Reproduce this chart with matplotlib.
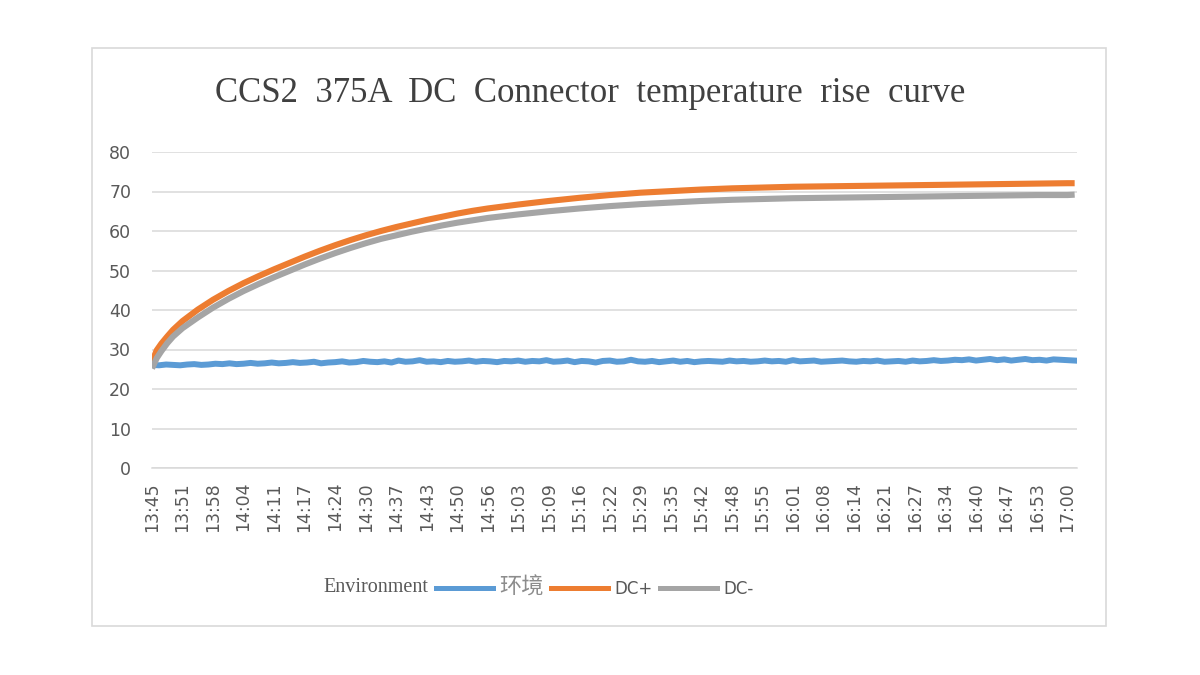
import numpy as np
import matplotlib
matplotlib.use("Agg")
import matplotlib.pyplot as plt
from matplotlib.lines import Line2D
from matplotlib.patches import Rectangle

plt.rcParams['font.family'] = ['DejaVu Sans', 'Noto Sans CJK SC']

# ---------------- data ----------------
title = "CCS2  375A  DC  Connector  temperature  rise  curve"
series_names = ["环境", "DC+", "DC-"]

# minutes after 13:45
dc_minutes = [0, 1, 2, 3.25, 4.5, 6.5, 9.75, 13, 16.25, 19.5,
              22.75, 26, 29.25, 32.5, 35.75, 39, 42.25, 45.5, 48.75, 52,
              55.25, 58.5, 61.75, 65, 68.25, 71.5,
              78, 84.5, 91, 97.5, 104, 110.5, 117, 123.5, 130, 136.5,
              143, 149.5, 156, 162.5, 169, 175.5, 182, 188.5, 195, 196.5]
dc_plus = [26.8, 29.8, 31.5, 33.3, 35.0, 37.2, 40.1, 42.6, 44.8, 46.8,
           48.6, 50.3, 51.9, 53.5, 55.0, 56.4, 57.7, 58.9, 60.0, 61.0,
           61.9, 62.8, 63.6, 64.4, 65.1, 65.7,
           66.7, 67.6, 68.4, 69.1, 69.7, 70.1, 70.5, 70.8, 71.0, 71.2,
           71.3, 71.4, 71.5, 71.6, 71.7, 71.8, 71.9, 72.0, 72.1, 72.1]
dc_minus = [25.2, 27.8, 29.6, 31.6, 33.3, 35.4, 38.1, 40.6, 42.8, 44.8,
            46.6, 48.3, 49.9, 51.5, 53.0, 54.4, 55.7, 56.9, 58.0, 58.9,
            59.8, 60.6, 61.4, 62.1, 62.7, 63.3,
            64.2, 65.0, 65.7, 66.3, 66.8, 67.2, 67.6, 67.9, 68.1, 68.3,
            68.4, 68.5, 68.6, 68.7, 68.8, 68.9, 69.0, 69.1, 69.1, 69.2]

env_step_min = 1.5
environment = [26.1, 26.0, 26.2, 26.1, 26.0, 26.2, 26.3, 26.1, 26.2, 26.4,
               26.3, 26.5, 26.3, 26.4, 26.6, 26.4, 26.5, 26.7, 26.5, 26.6,
               26.8, 26.6, 26.7, 26.9, 26.5, 26.7, 26.8, 27.0, 26.7, 26.8,
               27.1, 26.9, 26.8, 27.0, 26.7, 27.2, 26.9, 27.0, 27.3, 26.9,
               27.0, 26.8, 27.1, 26.9, 27.0, 27.2, 26.9, 27.1, 27.0, 26.8,
               27.1, 27.0, 27.2, 26.9, 27.1, 27.0, 27.3, 26.9, 27.0, 27.2,
               26.8, 27.1, 27.0, 26.7, 27.1, 27.2, 26.9, 27.0, 27.4, 27.0,
               26.9, 27.1, 26.8, 27.0, 27.2, 26.9, 27.1, 26.8, 27.0, 27.1,
               27.0, 26.9, 27.2, 27.0, 27.1, 26.9, 27.0, 27.2, 27.0, 27.1,
               26.9, 27.3, 27.0, 27.1, 27.2, 26.9, 27.0, 27.1, 27.2, 27.0,
               26.9, 27.1, 27.0, 27.2, 26.9, 27.0, 27.1, 26.9, 27.2, 27.0,
               27.1, 27.3, 27.1, 27.2, 27.4, 27.3, 27.5, 27.2, 27.4, 27.6,
               27.3, 27.5, 27.2, 27.4, 27.6, 27.3, 27.4, 27.2, 27.5, 27.4,
               27.3, 27.2]
env_minutes = np.arange(len(environment)) * env_step_min

tick_step_min = 6.5
tick_labels = ["13:45", "13:51", "13:58", "14:04", "14:11", "14:17", "14:24",
               "14:30", "14:37", "14:43", "14:50", "14:56", "15:03", "15:09",
               "15:16", "15:22", "15:29", "15:35", "15:42", "15:48", "15:55",
               "16:01", "16:08", "16:14", "16:21", "16:27", "16:34", "16:40",
               "16:47", "16:53", "17:00"]
y_ticks = [0, 10, 20, 30, 40, 50, 60, 70, 80]

# ---------------- style ----------------
c_env, c_plus, c_minus = "#5B9BD5", "#ED7D31", "#A5A5A5"
grid_c = "#D9D9D9"
txt_c = "#595959"

fig = plt.figure(figsize=(12, 6.75), dpi=100)
fig.patch.set_facecolor("white")
fig.add_artist(Rectangle((92/1200, 1-626/675), (1106-92)/1200, (626-48)/675,
                         transform=fig.transFigure, fill=False,
                         edgecolor=grid_c, linewidth=1.2))

ax = fig.add_axes([152/1200, 1-468/675, (1077-152)/1200, (468-152)/675])
ax.plot(env_minutes, environment, color=c_env, lw=4.3, solid_joinstyle='round', zorder=3)
ax.plot(dc_minutes, dc_plus, color=c_plus, lw=4.4, solid_capstyle='butt',
        solid_joinstyle='round', zorder=4)
ax.plot(dc_minutes, dc_minus, color=c_minus, lw=4.4, solid_capstyle='butt',
        solid_joinstyle='round', zorder=5)

ax.set_xlim(0, 197)
ax.set_ylim(0, 80)
ax.set_yticks(y_ticks)
ax.set_yticklabels([str(v) for v in y_ticks], fontsize=12.5, color=txt_c)
ax.set_xticks(np.arange(len(tick_labels)) * tick_step_min)
ax.set_xticklabels(tick_labels, rotation=90, fontsize=12.5, color=txt_c)
ax.tick_params(axis='both', length=0)
ax.tick_params(axis='y', pad=15)
ax.tick_params(axis='x', pad=10)
ax.grid(axis='y', color=grid_c, lw=1.1)
ax.set_axisbelow(True)
for s in ['top', 'right', 'left']:
    ax.spines[s].set_visible(False)
ax.spines['bottom'].set_color(grid_c)
ax.spines['bottom'].set_linewidth(1.1)

fig.text(590/1200, 1-93/675, title, ha='center', va='center',
         fontsize=25, color="#404040", family=['Liberation Serif', 'DejaVu Serif'])

# legend
handles = [Line2D([], [], color=c, lw=3.6) for c in (c_env, c_plus, c_minus)]
leg = fig.legend(handles, series_names, ncol=3, loc='center left',
                 bbox_to_anchor=(436/1200, 1-587/675), frameon=False,
                 fontsize=12, handlelength=3.4, handletextpad=0.42,
                 columnspacing=0.42, borderpad=0, borderaxespad=0)
for t, c, fs in zip(leg.get_texts(), ["#8C8C8C", txt_c, txt_c], [16, 12, 12]):
    t.set_color(c)
    t.set_fontsize(fs)
fig.text(428/1200, 1-587/675, "Environment", ha='right', va='center',
         fontsize=14.5, color=txt_c, family=['Liberation Serif', 'DejaVu Serif'])

fig.savefig("out.png", dpi=100, facecolor="white")
